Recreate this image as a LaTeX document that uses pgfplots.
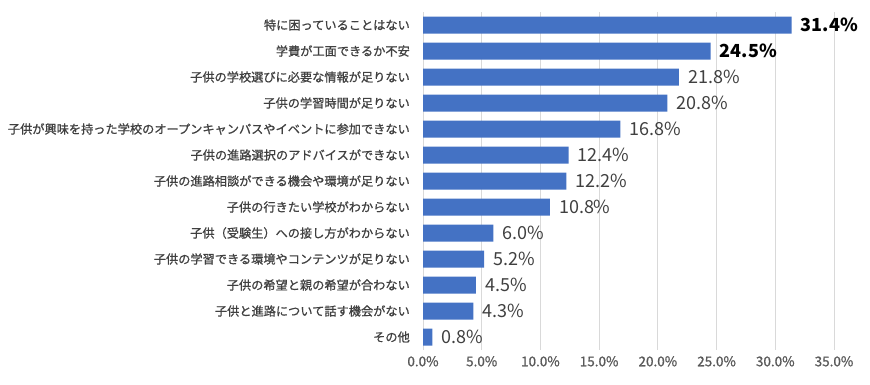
\documentclass[border=0pt]{standalone}
\usepackage{pgfplots}
\pgfplotsset{compat=1.18}
\usepackage{fontspec}
\setmainfont{Noto Sans CJK JP}
\newfontfamily\medfont[FakeBold=0.9]{Noto Sans CJK JP}
\definecolor{barblue}{HTML}{4472C4}
\definecolor{labgray}{HTML}{404040}
\definecolor{tickgray}{HTML}{595959}
\definecolor{gridgray}{HTML}{D9D9D9}
\begin{document}
\begin{tikzpicture}
\useasboundingbox (0,0) rectangle (870pt,384pt);
\begin{axis}[
  at={(423pt,34pt)}, anchor=south west,
  width=411pt, height=338pt, scale only axis,
  xbar, bar width=17pt, bar shift=0pt,
  xmin=0, xmax=35, ymin=-0.5, ymax=12.5, y dir=reverse,
  xtick={0,5,...,35},
  xmajorgrids, grid style={draw=gridgray, line width=0.8pt},
  axis line style={draw=none},
  major tick length=0pt,
  ytick={0,...,12},
  yticklabels={特に困っていることはない,学費が工面できるか不安,子供の学校選びに必要な情報が足りない,子供の学習時間が足りない,子供が興味を持った学校のオープンキャンパスやイベントに参加できない,子供の進路選択のアドバイスができない,子供の進路相談ができる機会や環境が足りない,子供の行きたい学校がわからない,子供（受験生）への接し方がわからない,子供の学習できる環境やコンテンツが足りない,子供の希望と親の希望が合わない,子供と進路について話す機会がない,その他},
  yticklabel style={font=\medfont\fontsize{12.2}{14}\selectfont, text=labgray, inner sep=0pt, xshift=-13pt},
  xticklabel={\pgfmathprintnumber[fixed,fixed zerofill,precision=1]{\tick}\%},
  xticklabel style={font=\medfont\fontsize{13.5}{16}\selectfont, text=tickgray, inner sep=0pt, yshift=-6pt},
  /pgf/number format/assume math mode=true,
  point meta=x,
  nodes near coords={\pgfmathprintnumber[fixed,fixed zerofill,precision=1]{\pgfplotspointmeta}\%},
  nodes near coords align={horizontal},
  clip=false,
]
\addplot[fill=barblue, draw=none,
  every node near coord/.append style={font=\fontsize{18}{20}\selectfont\bfseries, text=black, inner sep=0pt, xshift=9pt}]
  coordinates {(31.4,0) (24.5,1)};
\addplot[fill=barblue, draw=none,
  every node near coord/.append style={font=\fontsize{18}{20}\selectfont, text=labgray, inner sep=0pt, xshift=9pt}]
  coordinates {(21.8,2) (20.8,3) (16.8,4) (12.4,5) (12.2,6) (10.8,7) (6.0,8) (5.2,9) (4.5,10) (4.3,11) (0.8,12)};
\end{axis}
\end{tikzpicture}
\end{document}
